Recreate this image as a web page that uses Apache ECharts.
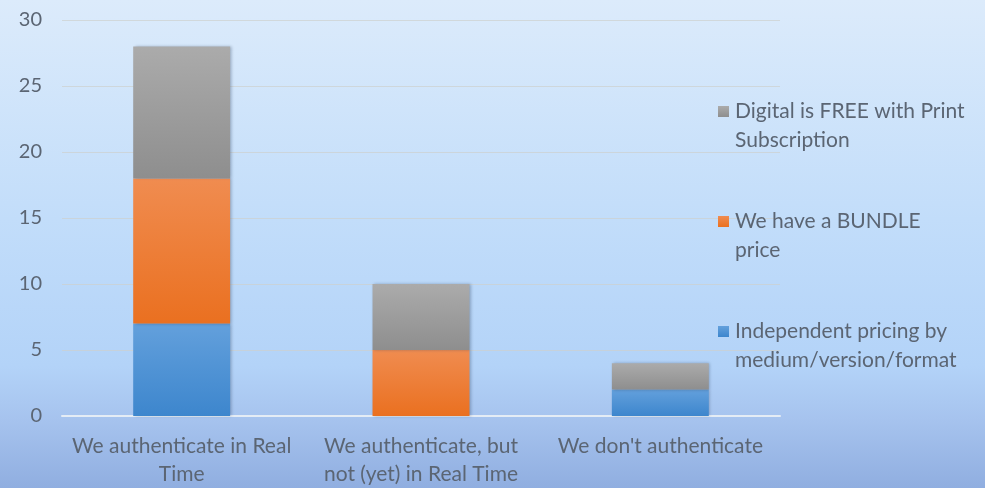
<!DOCTYPE html>
<html>
<head>
<meta charset="utf-8">
<style>
  html, body { margin: 0; padding: 0; }
  #chart { width: 985px; height: 488px; }
</style>
<script src="https://cdn.jsdelivr.net/npm/echarts@6/dist/echarts.min.js"></script>
</head>
<body>
<div id="chart"></div>
<script>
// Categories along the x axis
const categories = [
  'We authenticate in Real\nTime',
  'We authenticate, but\nnot (yet) in Real Time',
  "We don't authenticate"
];

// Stacked series values (bottom to top)
const independentPricing = [7, 0, 2];
const bundlePrice = [11, 5, 0];
const digitalFree = [10, 5, 2];

const seriesNames = [
  'Independent pricing by medium/version/format',
  'We have a BUNDLE price',
  'Digital is FREE with Print Subscription'
];
const legendLabels = {
  'Independent pricing by medium/version/format': 'Independent pricing by\nmedium/version/format',
  'We have a BUNDLE price': 'We have a BUNDLE\nprice',
  'Digital is FREE with Print Subscription': 'Digital is FREE with Print\nSubscription'
};

const yTicks = { min: 0, max: 30, interval: 5 };

const textColor = '#5b6573';
const fontFamily = 'Lato, "Open Sans", sans-serif';

function vgrad(top, bottom) {
  return new echarts.graphic.LinearGradient(0, 0, 0, 1, [
    { offset: 0, color: top },
    { offset: 1, color: bottom }
  ]);
}

const barStyle = (top, bottom) => ({
  color: vgrad(top, bottom),
  shadowColor: 'rgba(40,60,90,0.35)',
  shadowBlur: 3,
  shadowOffsetX: 1.5,
  shadowOffsetY: 0
});

const chart = echarts.init(document.getElementById('chart'));

chart.setOption({
  backgroundColor: new echarts.graphic.LinearGradient(0, 0, 0, 1, [
    { offset: 0, color: '#dcebfb' },
    { offset: 0.45, color: '#c2ddfa' },
    { offset: 0.75, color: '#b3d3f8' },
    { offset: 0.86, color: '#a6c3ee' },
    { offset: 1, color: '#90aee0' }
  ]),
  animation: false,
  textStyle: { fontFamily: fontFamily },
  grid: { left: 62, right: 205, top: 20, bottom: 71 },
  legend: {
    orient: 'vertical',
    left: 713,
    top: 63,
    itemWidth: 11,
    itemHeight: 11,
    itemGap: 23,
    icon: 'rect',
    data: [seriesNames[2], seriesNames[1], seriesNames[0]],
    // leading blank line keeps the marker level with the first text line
    formatter: name => ' \n' + legendLabels[name],
    textStyle: {
      color: textColor,
      fontSize: 21,
      lineHeight: 29,
      fontFamily: fontFamily,
      padding: [0, 0, 0, 1]
    }
  },
  xAxis: {
    type: 'category',
    data: categories,
    axisLine: { lineStyle: { color: '#e4ecf5', width: 2 } },
    axisTick: { show: false },
    axisLabel: {
      color: textColor,
      fontSize: 21,
      lineHeight: 28,
      margin: 16,
      interval: 0,
      fontFamily: fontFamily
    }
  },
  yAxis: {
    type: 'value',
    min: yTicks.min,
    max: yTicks.max,
    interval: yTicks.interval,
    axisLine: { show: false },
    axisTick: { show: false },
    axisLabel: {
      color: textColor,
      fontSize: 20,
      margin: 20,
      fontFamily: fontFamily
    },
    splitLine: { lineStyle: { color: 'rgba(205,208,205,0.7)', width: 1 } }
  },
  series: [
    {
      name: seriesNames[0],
      type: 'bar',
      stack: 'total',
      barWidth: '40.5%',
      data: independentPricing,
      itemStyle: barStyle('#63a0dc', '#3d86cd')
    },
    {
      name: seriesNames[1],
      type: 'bar',
      stack: 'total',
      data: bundlePrice,
      itemStyle: barStyle('#f08c50', '#ea7020')
    },
    {
      name: seriesNames[2],
      type: 'bar',
      stack: 'total',
      data: digitalFree,
      itemStyle: barStyle('#ababab', '#8e8e8e')
    }
  ]
});
</script>
</body>
</html>
